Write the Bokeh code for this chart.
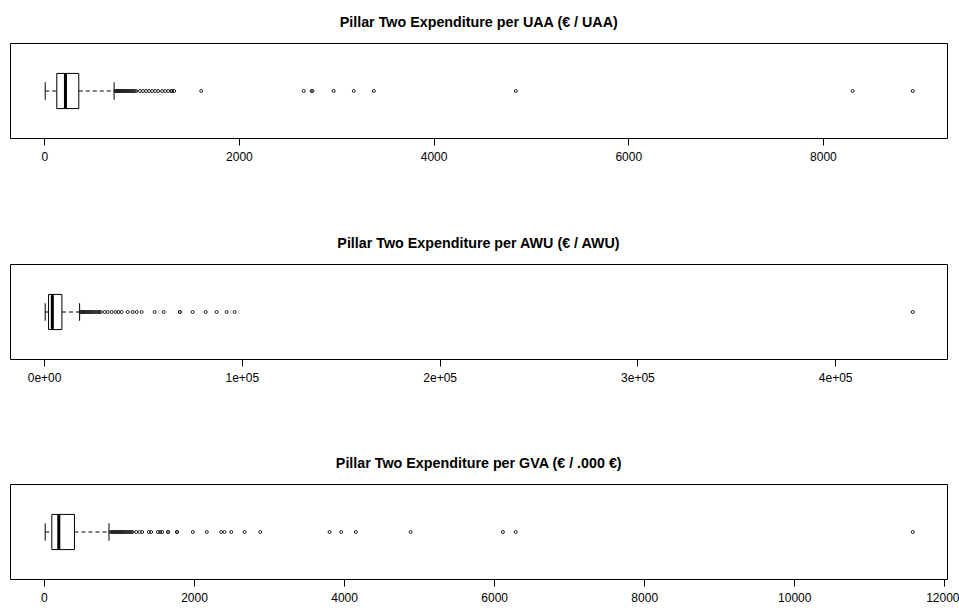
from bokeh.plotting import figure
from bokeh.layouts import column
from bokeh.models import Range1d, FixedTicker
from bokeh.embed import file_html
from bokeh.resources import INLINE

# ---------------- data ----------------
titles = [
    "Pillar Two Expenditure per UAA (€ / UAA)",
    "Pillar Two Expenditure per AWU (€ / AWU)",
    "Pillar Two Expenditure per GVA (€ / .000 €)",
]

# box statistics: lower whisker, Q1, median, Q3, upper whisker
uaa_stats = [5, 124, 213, 350, 713]
uaa_outliers = [725, 732, 740, 748, 755, 763, 770, 778, 785, 795, 805, 812,
                820, 830, 840, 850, 860, 872, 885, 898, 910, 925, 940,
                979, 1010, 1041, 1072, 1103, 1134, 1165, 1206, 1237, 1268,
                1300, 1309, 1330, 1608, 2660, 2742, 2750, 2969, 3175, 3381,
                4840, 8300, 8918]
uaa_ticks = [0, 2000, 4000, 6000, 8000]
uaa_tick_labels = ["0", "2000", "4000", "6000", "8000"]

awu_stats = [300, 2000, 3900, 8750, 17700]
awu_outliers = [18000, 18300, 18600, 19000, 19400, 19800, 20200, 20700,
                21200, 21700, 22300, 23000, 23600, 24300, 25000, 25800,
                26600, 27500, 28400, 30350, 31870, 33890, 35910, 37430,
                38950, 41980, 44510, 46540, 49070, 55640, 60190, 68290,
                68400, 74860, 81440, 87000, 92060, 96100, 439000]
awu_ticks = [0, 100000, 200000, 300000, 400000]
awu_tick_labels = ["0e+00", "1e+05", "2e+05", "3e+05", "4e+05"]

gva_stats = [10, 98, 191, 400, 860]
gva_outliers = [880, 895, 910, 925, 940, 955, 970, 985, 1000, 1015, 1030,
                1045, 1060, 1080, 1100, 1120, 1140, 1160, 1175, 1222, 1267,
                1302, 1391, 1422, 1511, 1542, 1569, 1644, 1650, 1764, 1770,
                1978, 2164, 2356, 2400, 2489, 2667, 2876, 3800, 3955, 4150,
                4880, 6110, 6280, 11573]
gva_ticks = [0, 2000, 4000, 6000, 8000, 10000, 12000]
gva_tick_labels = ["0", "2000", "4000", "6000", "8000", "10000", "12000"]

FONT = "Liberation Sans"
FRAME_H = 95
TOP = 43


def make_panel(title, stats, outliers, ticks, tick_labels, height):
    wl, q1, med, q3, wh = stats
    lo = min([wl] + outliers)
    hi = max([wh] + outliers)
    pad = 0.04 * (hi - lo)
    p = figure(width=959, height=height, output_backend="svg",
               toolbar_location=None, tools="",
               x_range=Range1d(lo - pad, hi + pad),
               y_range=Range1d(0.46, 1.54),
               y_axis_location=None,
               min_border_left=10, min_border_right=12,
               min_border_top=TOP, min_border_bottom=height - TOP - FRAME_H)
    p.title.text = title
    p.title.align = "center"
    p.title.vertical_align = "top"
    p.title.text_font = FONT
    p.title.text_font_style = "bold"
    p.title.text_font_size = "14.3px"
    p.title.text_color = "black"
    p.title.standoff = 24

    p.grid.visible = False
    p.outline_line_color = "black"
    p.outline_line_width = 1
    p.outline_line_alpha = 1.0
    p.background_fill_color = "white"
    p.border_fill_color = "white"

    ax = p.xaxis[0]
    ax.ticker = FixedTicker(ticks=ticks)
    ax.major_label_overrides = {t: l for t, l in zip(ticks, tick_labels)}
    ax.axis_line_color = None
    ax.major_tick_out = 7
    ax.major_tick_in = 0
    ax.major_tick_line_color = "black"
    ax.minor_tick_line_color = None
    ax.major_label_text_font = FONT
    ax.major_label_text_font_size = "12px"
    ax.major_label_text_color = "black"
    ax.major_label_standoff = 6

    # whiskers (dashed)
    p.segment(x0=[wl, q3], y0=[1, 1], x1=[q1, wh], y1=[1, 1],
              line_color="black", line_width=1, line_dash="4 3")
    # staples
    p.segment(x0=[wl, wh], y0=[0.9, 0.9], x1=[wl, wh], y1=[1.1, 1.1],
              line_color="black", line_width=1)
    # box
    p.quad(left=[q1], right=[q3], bottom=[0.8], top=[1.2],
           fill_color="white", line_color="black", line_width=1)
    # median
    p.segment(x0=[med], y0=[0.8], x1=[med], y1=[1.2],
              line_color="black", line_width=3)
    # outliers
    p.scatter(x=outliers, y=[1] * len(outliers), marker="circle", size=3,
              fill_color=None, line_color="#222222", line_width=1)
    return p


p1 = make_panel(titles[0], uaa_stats, uaa_outliers, uaa_ticks,
                uaa_tick_labels, 221)
p2 = make_panel(titles[1], awu_stats, awu_outliers, awu_ticks,
                awu_tick_labels, 220)
p3 = make_panel(titles[2], gva_stats, gva_outliers, gva_ticks,
                gva_tick_labels, 167)

layout = column(p1, p2, p3, spacing=0)
open("out.html", "w").write(file_html(layout, INLINE))
